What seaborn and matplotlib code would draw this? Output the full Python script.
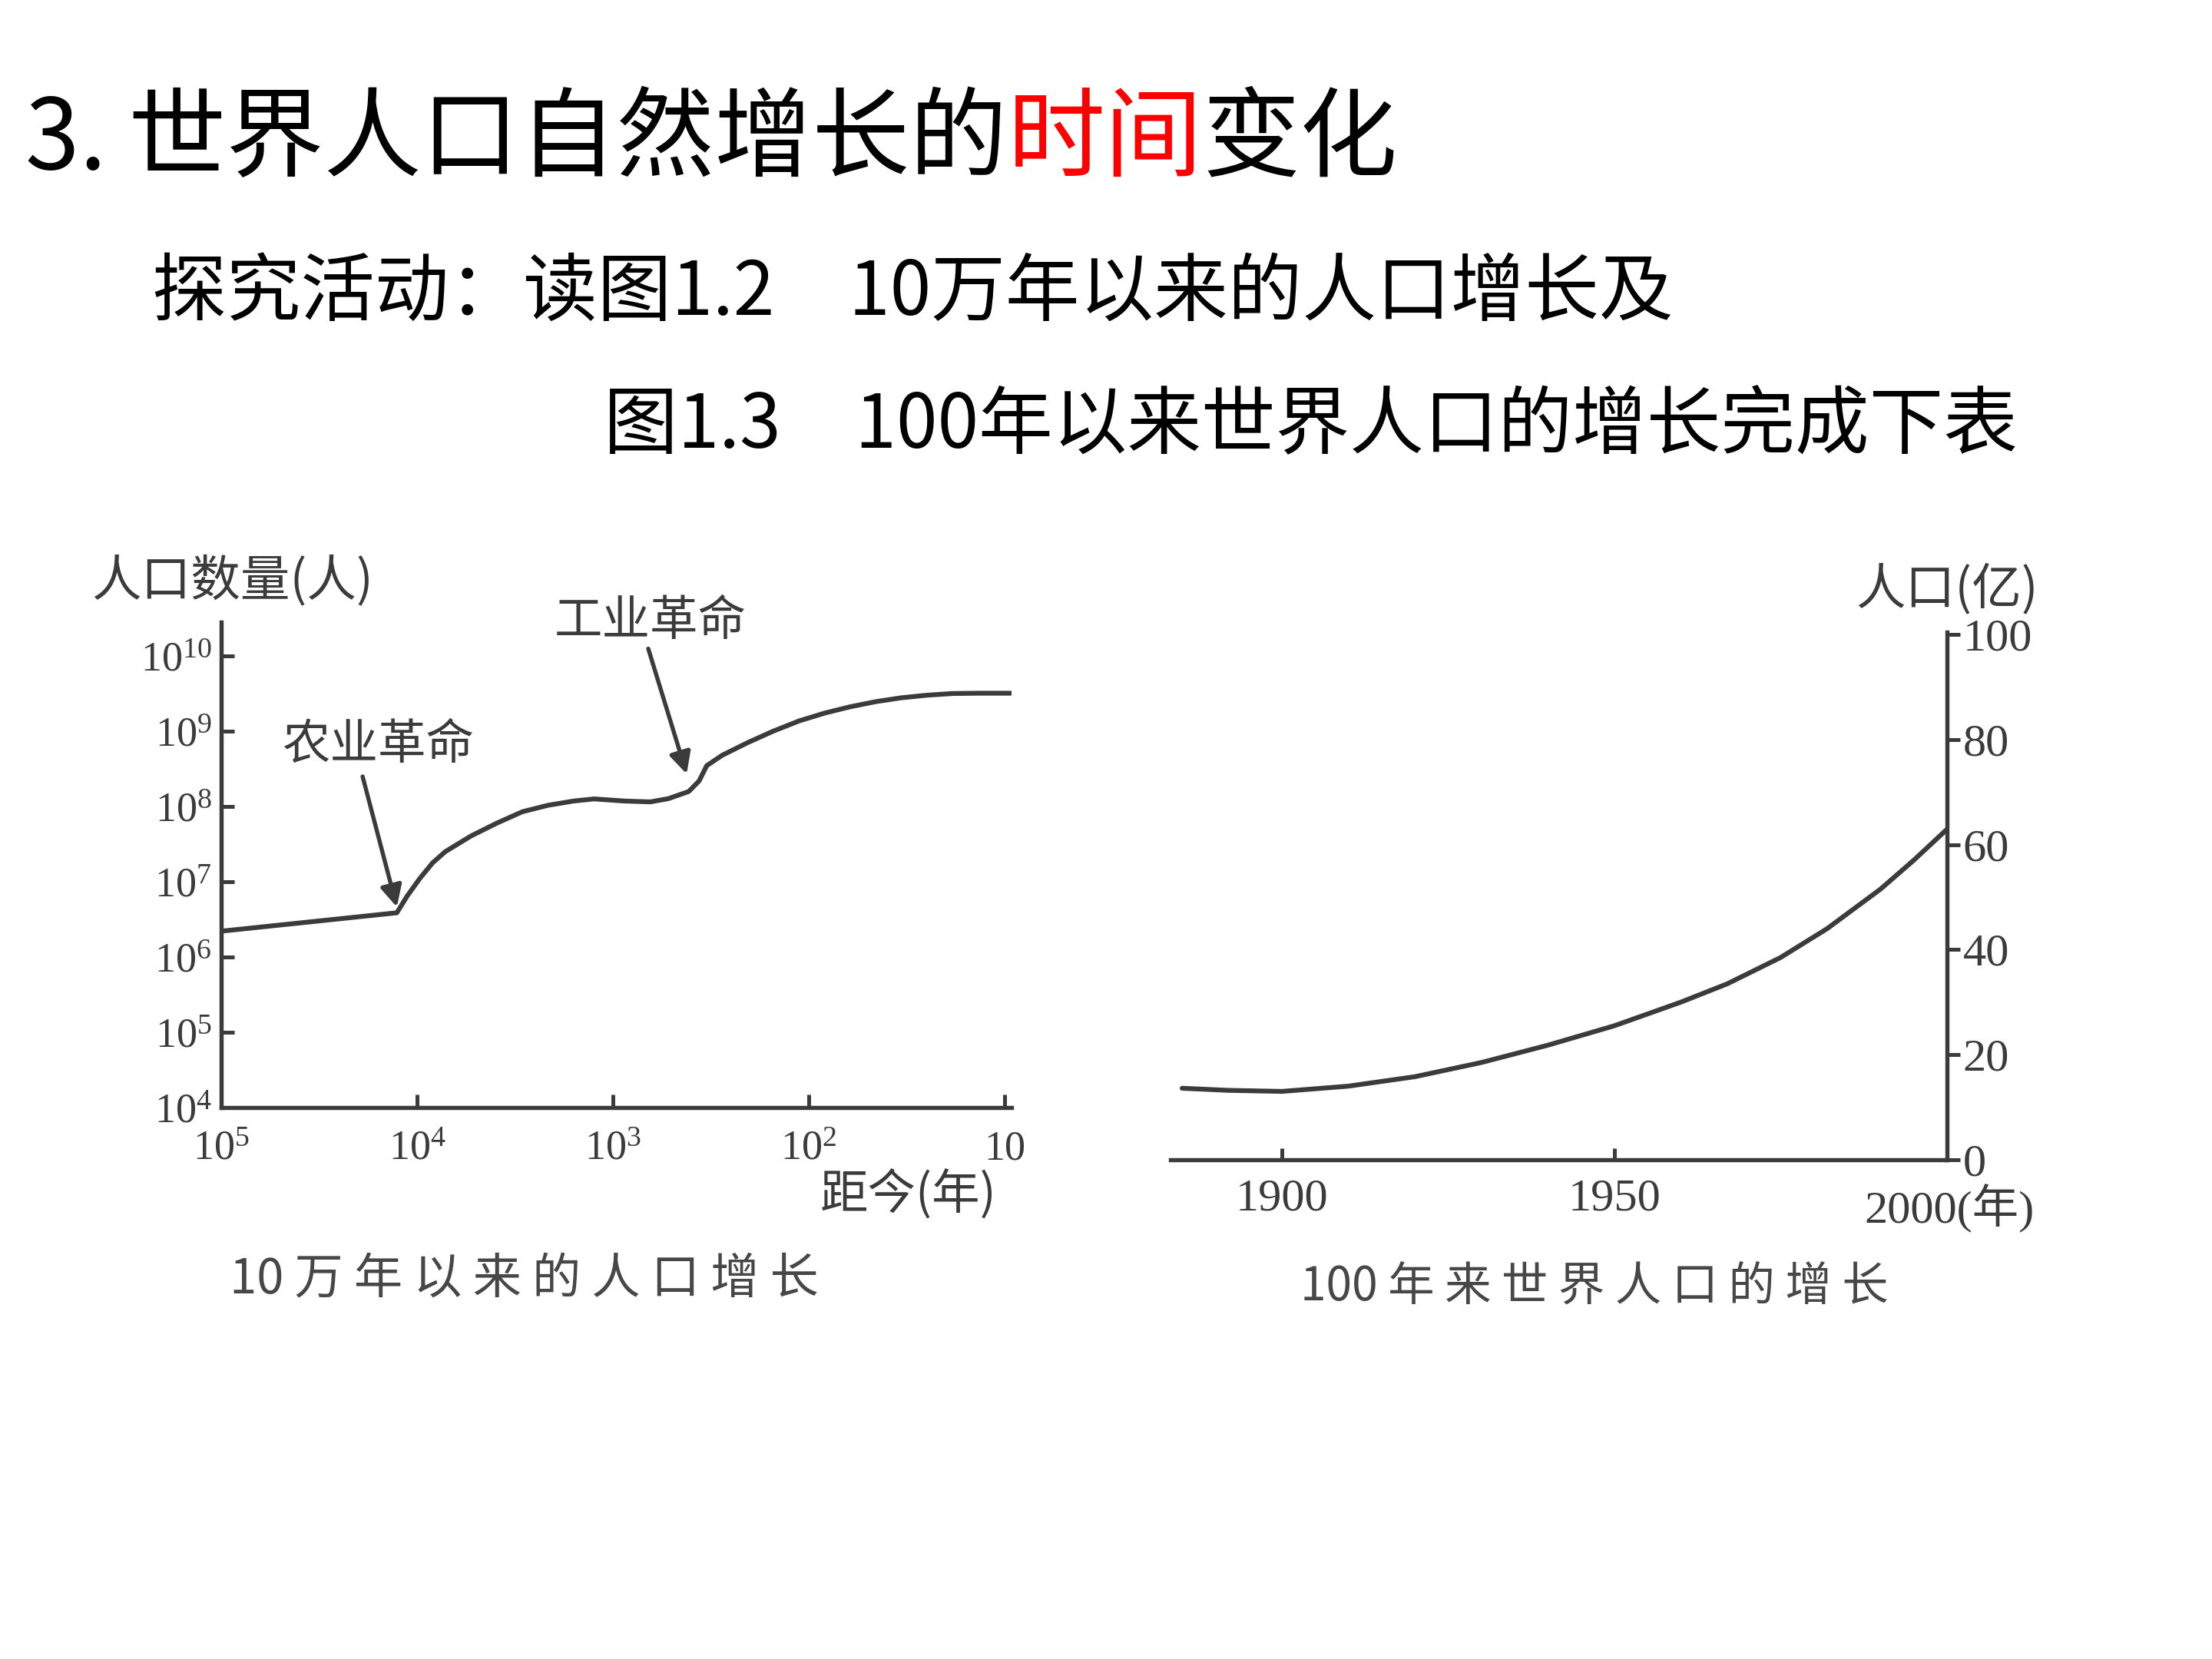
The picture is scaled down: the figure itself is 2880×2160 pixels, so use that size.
import matplotlib
matplotlib.use('Agg')
import matplotlib.pyplot as plt
import seaborn as sns

# 图1.2 10万年以来的人口增长：距今年数 / 人口数量(人)
years_ago = [100000, 12700, 11270, 9680, 8340, 7180, 5310, 3930, 2900, 2150,
             1590, 1250, 871, 644, 521, 410, 363, 332, 277, 205,
             152, 112, 83, 61.5, 45.5, 33.7, 24.9, 18.4, 13.6, 9.2]
population = [2.2e6, 3.86e6, 6.4e6, 1.11e7, 1.78e7, 2.51e7, 4.05e7, 5.98e7, 8.51e7, 1.035e8,
              1.18e8, 1.26e8, 1.18e8, 1.15e8, 1.27e8, 1.58e8, 2.18e8, 3.48e8, 4.78e8, 7.05e8,
              1.0e9, 1.37e9, 1.74e9, 2.11e9, 2.47e9, 2.78e9, 3.01e9, 3.17e9, 3.2e9, 3.2e9]
left_xticks = [1e5, 1e4, 1e3, 1e2, 10]
left_xlabels = [r'$10^{5}$', r'$10^{4}$', r'$10^{3}$', r'$10^{2}$', '10']
left_yticks = [1e4, 1e5, 1e6, 1e7, 1e8, 1e9, 1e10]
left_ylabels = [r'$10^{4}$', r'$10^{5}$', r'$10^{6}$', r'$10^{7}$', r'$10^{8}$', r'$10^{9}$', r'$10^{10}$']

# 图1.3 100年来世界人口的增长：年份 / 人口(亿)
years = [1885, 1892, 1900, 1910, 1920, 1930, 1940, 1950, 1960, 1967, 1975, 1982, 1990, 1995, 2000]
pop_yi = [13.6, 13.2, 13.0, 14.0, 15.8, 18.5, 21.8, 25.5, 30.0, 33.5, 38.5, 44.0, 51.5, 57.0, 62.9]
right_xticks = [1900, 1950]
right_yticks = [0, 20, 40, 60, 80, 100]

sns.set_theme(style='white')
plt.rcParams['font.family'] = ['Liberation Serif', 'Noto Sans CJK SC', 'DejaVu Sans']
plt.rcParams['mathtext.fontset'] = 'custom'
plt.rcParams['mathtext.rm'] = 'Liberation Serif'
plt.rcParams['mathtext.it'] = 'Liberation Serif:italic'

ink = '#3b3b3b'
cap = '#474747'
cjk = ['Noto Sans CJK SC', 'DejaVu Sans']
num = ['Liberation Serif', 'Noto Sans CJK SC']

fig = plt.figure(figsize=(9.6, 7.2), dpi=300)
fig.patch.set_facecolor('white')

# 标题文字
bg = fig.add_axes([0, 0, 1, 1])
bg.axis('off')
t1 = bg.text(0.0115, 0.915, '3. 世界人口自然增长的', fontsize=30.5, family=cjk,
             color='black', ha='left', va='center', transform=bg.transAxes)
t2 = bg.annotate('时间', xy=(1, 0), xycoords=t1, ha='left', va='bottom',
                 fontsize=30.5, family=cjk, color='#ff0000')
bg.annotate('变化', xy=(1, 0), xycoords=t2, ha='left', va='bottom',
            fontsize=30.5, family=cjk, color='black')
bg.text(0.0689, 0.823, '探究活动：读图1.2　10万年以来的人口增长及', fontsize=23.2,
        family=cjk, color='black', ha='left', va='center', transform=bg.transAxes)
bg.text(0.273, 0.743, '图1.3　100年以来世界人口的增长完成下表', fontsize=23.2,
        family=cjk, color='black', ha='left', va='center', transform=bg.transAxes)

# 左图
ax1 = fig.add_axes([0.1001, 0.3325, 0.3572, 0.2925])
ax1.set_xscale('log')
ax1.set_yscale('log')
sns.lineplot(x=years_ago, y=population, ax=ax1, color=ink, linewidth=1.5, sort=False)
ax1.set_xlim(1e5, 9.2)
ax1.set_ylim(1e4, 10 ** 10.45)
ax1.set_xticks(left_xticks)
ax1.set_xticklabels(left_xlabels)
ax1.set_yticks(left_yticks)
ax1.set_yticklabels(left_ylabels)
ax1.minorticks_off()
ax1.tick_params(direction='in', length=4, width=1.2, color=ink, labelcolor=ink,
                labelsize=13, bottom=True, left=True)
ax1.tick_params(axis='x', pad=7)
ax1.tick_params(axis='y', pad=3)
for s in ['top', 'right']:
    ax1.spines[s].set_visible(False)
for s in ['left', 'bottom']:
    ax1.spines[s].set_color(ink)
    ax1.spines[s].set_linewidth(1.3)
ax1.set_xlabel('')
ax1.set_ylabel('')
ax1.patch.set_alpha(0)

arrow = dict(arrowstyle='-|>', color=ink, lw=1.3, mutation_scale=14, shrinkA=0, shrinkB=0)
ax1.annotate('', xy=(12700, 4.6e6), xytext=(19000, 2.5e8), arrowprops=arrow)
ax1.text(15800, 6.6e8, '农业革命', fontsize=15, family=cjk, color=ink, ha='center', va='center')
ax1.annotate('', xy=(420, 2.7e8), xytext=(660, 1.25e10), arrowprops=arrow)
ax1.text(646, 2.9e10, '工业革命', fontsize=15, family=cjk, color=ink, ha='center', va='center')

fig.text(0.0415, 0.6497, '人口数量(人)', fontsize=15.5, family=cjk, color=ink, ha='left', va='center')
fig.text(0.4107, 0.2798, '距今(年)', fontsize=15, family=cjk, color=ink, ha='center', va='center')
fig.text(0.2368, 0.2287, ' '.join(['10', '万', '年', '以', '来', '的', '人', '口', '增', '长']),
         fontsize=15.2, family=cjk, color=cap, ha='center', va='center', fontweight='medium')

# 右图
ax2 = fig.add_axes([0.5293, 0.3010, 0.3508, 0.3180])
sns.lineplot(x=years, y=pop_yi, ax=ax2, color=ink, linewidth=1.5)
ax2.set_xlim(1883.3, 2000)
ax2.set_ylim(0, 100.5)
ax2.set_xticks(right_xticks)
ax2.set_xticklabels([str(v) for v in right_xticks])
ax2.set_yticks(right_yticks)
ax2.set_yticklabels([str(v) for v in right_yticks])
ax2.yaxis.tick_right()
ax2.tick_params(axis='y', direction='out', length=4, width=1.2, color=ink,
                labelcolor=ink, labelsize=14.5, right=True, left=False, pad=1)
ax2.tick_params(axis='x', direction='in', length=3.5, width=1.2, color=ink,
                labelcolor=ink, labelsize=14.5, bottom=True, pad=6)
for s in ['top', 'left']:
    ax2.spines[s].set_visible(False)
for s in ['right', 'bottom']:
    ax2.spines[s].set_color(ink)
    ax2.spines[s].set_linewidth(1.3)
ax2.set_xlabel('')
ax2.set_ylabel('')
ax2.patch.set_alpha(0)

fig.text(0.8801, 0.6446, '人口(亿)', fontsize=15.5, family=cjk, color=ink, ha='center', va='center')
fig.text(0.8814, 0.2715, '2000(年)', fontsize=14.5, family=num, color=ink, ha='center', va='center')
fig.text(0.7207, 0.2245, ' '.join(['100', '年', '来', '世', '界', '人', '口', '的', '增', '长']),
         fontsize=14.5, family=cjk, color=cap, ha='center', va='center', fontweight='medium')

fig.savefig('out.png', dpi=300, facecolor='white')
